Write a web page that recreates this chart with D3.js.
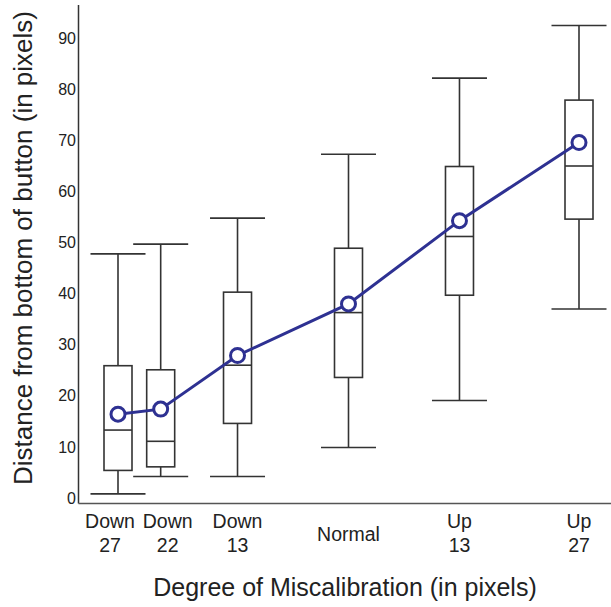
<!DOCTYPE html>
<html>
<head>
<meta charset="utf-8">
<script src="https://cdn.jsdelivr.net/npm/d3@7"></script>
<style>
  html, body { margin: 0; padding: 0; background: #fff; }
  svg { display: block; font-family: "Liberation Sans", Arial, Helvetica, sans-serif; }
</style>
</head>
<body>
<svg id="chart" width="611" height="607"></svg>
<script>
// ---- data ----
const categories = ["Down 27", "Down 22", "Down 13", "Normal", "Up 13", "Up 27"];
const labelLines = [["Down", "27"], ["Down", "22"], ["Down", "13"], ["Normal"], ["Up", "13"], ["Up", "27"]];
const offsets    = [-27, -22, -13, 0, 13, 27];
const whiskerLow = [0.8, 4.2, 4.2, 9.9, 19.1, 37.0];
const q1         = [5.4, 6.1, 14.6, 23.6, 39.7, 54.6];
const medians    = [13.3, 11.1, 26.0, 36.3, 51.2, 65.0];
const q3         = [25.9, 25.1, 40.3, 48.9, 64.9, 77.9];
const whiskerHigh= [47.8, 49.7, 54.8, 67.3, 82.2, 92.5];
const means      = [16.4, 17.4, 27.9, 38.0, 54.3, 69.6];
const yTicks     = [0, 10, 20, 30, 40, 50, 60, 70, 80, 90];

const rows = categories.map((c, i) => ({
  cat: c, lines: labelLines[i], x: offsets[i],
  lo: whiskerLow[i], q1: q1[i], med: medians[i], q3: q3[i], hi: whiskerHigh[i], mean: means[i]
}));

// ---- layout ----
const svg = d3.select("#chart");
const axisX = 78.5, axisY = 503.5, right = 611;
const x = d3.scaleLinear().domain([-27, 27]).range([118, 579]);
const y = d3.scaleLinear().domain([0, 90]).range([498, 38.3]);
const yTopVal = 96.5;
const boxW = 28, capW = 55;
const ink = "#333";
const blue = "#2e3192";
// label nudges (px) so the crowded left labels don't collide
const labelNudge = [-8, 7, 0, 0, 0, 0];

// axes lines
svg.append("line").attr("x1", axisX).attr("x2", axisX)
  .attr("y1", y(yTopVal)).attr("y2", axisY)
  .attr("stroke", ink).attr("stroke-width", 1.5);
svg.append("line").attr("x1", axisX).attr("x2", right)
  .attr("y1", axisY).attr("y2", axisY)
  .attr("stroke", "#555").attr("stroke-width", 1.5);

// y axis tick labels
const yAxis = d3.axisLeft(y).tickValues(yTicks).tickSize(0).tickPadding(2.5).tickFormat(d3.format("d"));
const gy = svg.append("g").attr("transform", `translate(${axisX},0)`).call(yAxis);
gy.select(".domain").remove();
gy.selectAll("text").attr("font-size", 16).attr("fill", "#222")
  .attr("font-family", "Liberation Sans, Arial, sans-serif");

// boxes
const g = svg.append("g");
rows.forEach(d => {
  const cx = x(d.x);
  const bg = g.append("g").attr("stroke", ink).attr("stroke-width", 1.6).attr("fill", "none");
  bg.append("line").attr("x1", cx).attr("x2", cx).attr("y1", y(d.hi)).attr("y2", y(d.q3));
  bg.append("line").attr("x1", cx).attr("x2", cx).attr("y1", y(d.q1)).attr("y2", y(d.lo));
  bg.append("line").attr("x1", cx - capW / 2).attr("x2", cx + capW / 2).attr("y1", y(d.hi)).attr("y2", y(d.hi));
  bg.append("line").attr("x1", cx - capW / 2).attr("x2", cx + capW / 2).attr("y1", y(d.lo)).attr("y2", y(d.lo));
  bg.append("rect").attr("x", cx - boxW / 2).attr("width", boxW)
    .attr("y", y(d.q3)).attr("height", y(d.q1) - y(d.q3)).attr("fill", "#fff");
  bg.append("line").attr("x1", cx - boxW / 2).attr("x2", cx + boxW / 2).attr("y1", y(d.med)).attr("y2", y(d.med));
});

// mean line
const line = d3.line().x(d => x(d.x)).y(d => y(d.mean));
svg.append("path").datum(rows).attr("d", line)
  .attr("fill", "none").attr("stroke", blue).attr("stroke-width", 3);
svg.selectAll("circle.mean").data(rows).join("circle").attr("class", "mean")
  .attr("cx", d => x(d.x)).attr("cy", d => y(d.mean)).attr("r", 7)
  .attr("fill", "#fff").attr("stroke", blue).attr("stroke-width", 3);

// x category labels
rows.forEach((d, i) => {
  const cx = x(d.x) + labelNudge[i];
  const t = svg.append("text").attr("text-anchor", "middle").attr("font-size", 19.5).attr("fill", "#222");
  if (d.lines.length === 2) {
    t.append("tspan").attr("x", cx).attr("y", 528).text(d.lines[0]);
    t.append("tspan").attr("x", cx).attr("y", 551.5).text(d.lines[1]);
  } else {
    t.append("tspan").attr("x", cx).attr("y", 541).text(d.lines[0]);
  }
});

// axis titles
svg.append("text").attr("x", 345).attr("y", 596).attr("text-anchor", "middle")
  .attr("font-size", 25).attr("fill", "#222").text("Degree of Miscalibration (in pixels)");
svg.append("text").attr("transform", "translate(32,248) rotate(-90)").attr("text-anchor", "middle")
  .attr("font-size", 26).attr("fill", "#222").text("Distance from bottom of button (in pixels)");
</script>
</body>
</html>
